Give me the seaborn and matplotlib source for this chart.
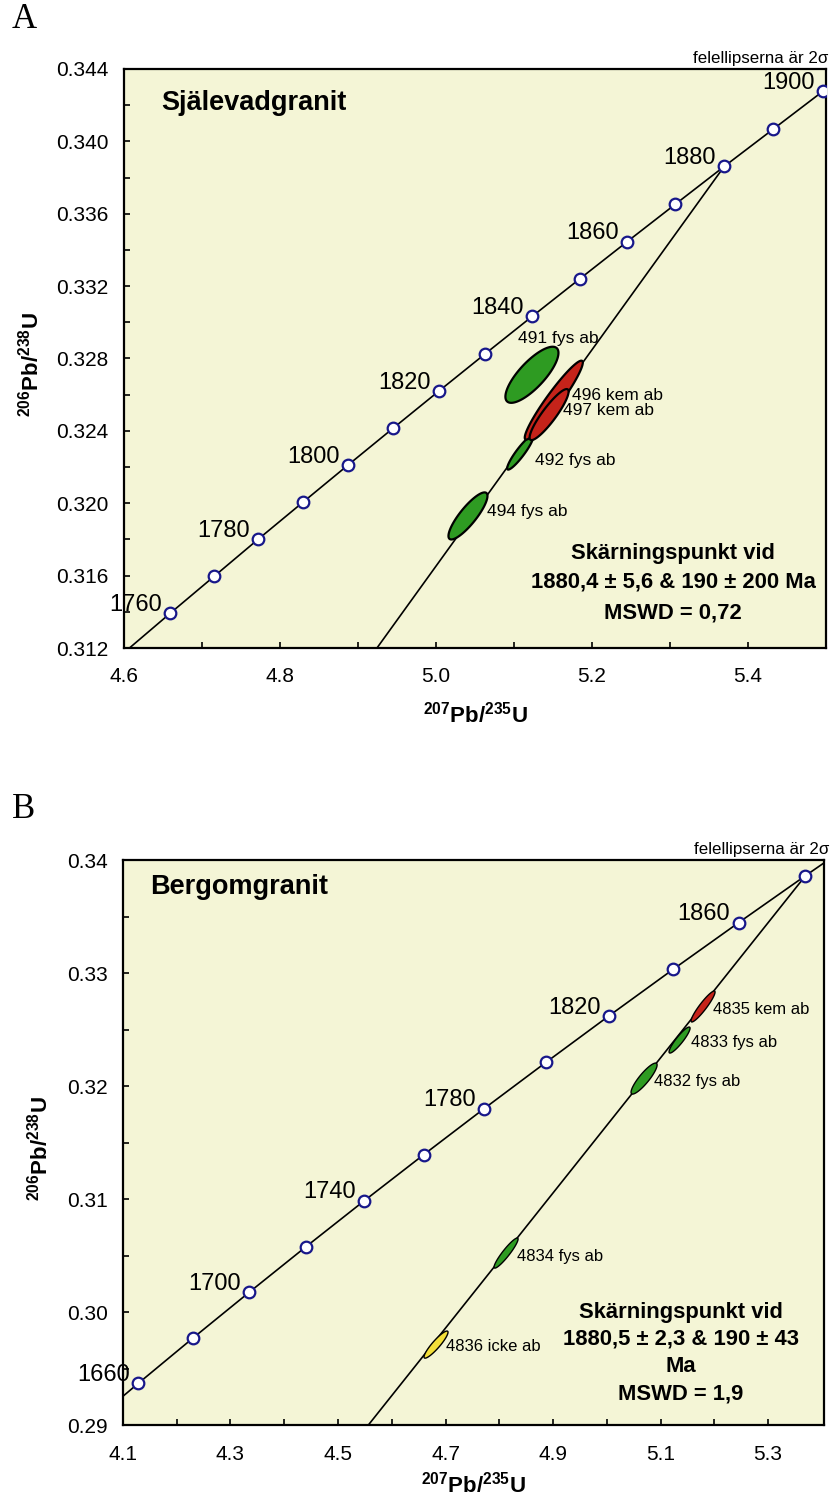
import numpy as np
import seaborn as sns
import matplotlib.pyplot as plt
import pandas as pd

sns.set_style("ticks")
plt.rcParams['font.family'] = ['Liberation Sans', 'DejaVu Sans']
plt.rcParams['mathtext.fontset'] = 'custom'
plt.rcParams['mathtext.rm'] = 'Liberation Sans'
plt.rcParams['mathtext.bf'] = 'Liberation Sans:bold'
plt.rcParams['text.color'] = 'black'
plt.rcParams['axes.labelcolor'] = 'black'
plt.rcParams['xtick.color'] = 'black'
plt.rcParams['ytick.color'] = 'black'

# ---- panel A: Själevadgranit ----
a_ages = [1750, 1760, 1770, 1780, 1790, 1800, 1810, 1820, 1830, 1840, 1850, 1860, 1870, 1880, 1890, 1900, 1910]
a_conc_x = [4.6040, 4.6595, 4.7155, 4.7720, 4.8292, 4.8869, 4.9451, 5.0040, 5.0634, 5.1234,
            5.1840, 5.2452, 5.3070, 5.3694, 5.4325, 5.4961, 5.5604]
a_conc_y = [0.31189, 0.31393, 0.31596, 0.31801, 0.32005, 0.32210, 0.32415, 0.32621, 0.32827, 0.33033,
            0.33239, 0.33446, 0.33653, 0.33861, 0.34068, 0.34277, 0.34485]
a_marked = [1760, 1770, 1780, 1790, 1800, 1810, 1820, 1830, 1840, 1850, 1860, 1870, 1880, 1890, 1900]
a_labeled = [1760, 1780, 1800, 1820, 1840, 1860, 1880, 1900]
# discordia: lower and upper intercept (190 Ma and 1880.4 Ma)
a_disc_x = [0.2058, 5.3694]
a_disc_y = [0.02991, 0.33861]

a_ell_name = ["491 fys ab", "494 fys ab", "492 fys ab", "496 kem ab", "497 kem ab"]
a_ell_x = [5.123, 5.041, 5.108, 5.151, 5.145]
a_ell_y = [0.3271, 0.3193, 0.3228, 0.3257, 0.3249]
a_ell_sx = [0.034, 0.025, 0.0167, 0.0372, 0.025]
a_ell_sy = [0.00155, 0.0013, 0.00094, 0.00218, 0.00141]
a_ell_rho = [0.78, 0.85, 0.92, 0.95, 0.90]
a_ell_type = ["fys", "fys", "fys", "kem", "kem"]
a_lab_x = [5.105, 5.065, 5.127, 5.174, 5.163]
a_lab_y = [0.32913, 0.31957, 0.32234, 0.32598, 0.32510]

a_xticks = [4.6, 4.7, 4.8, 4.9, 5.0, 5.1, 5.2, 5.3, 5.4]
a_xticklabels = ["4.6", "", "4.8", "", "5.0", "", "5.2", "", "5.4"]
a_yticks = [0.312, 0.314, 0.316, 0.318, 0.320, 0.322, 0.324, 0.326, 0.328, 0.330,
            0.332, 0.334, 0.336, 0.338, 0.340, 0.342, 0.344]
a_yticklabels = ["0.312", "", "0.316", "", "0.320", "", "0.324", "", "0.328", "",
                 "0.332", "", "0.336", "", "0.340", "", "0.344"]
a_result = ["Skärningspunkt vid", "1880,4 ± 5,6 & 190 ± 200 Ma", "MSWD = 0,72"]

# ---- panel B: Bergomgranit ----
b_ages = [1640, 1660, 1680, 1700, 1720, 1740, 1760, 1780, 1800, 1820, 1840, 1860, 1880, 1900]
b_conc_x = [4.0287, 4.1287, 4.2307, 4.3348, 4.4409, 4.5491, 4.6595, 4.7720, 4.8869, 5.0040,
            5.1234, 5.2452, 5.3694, 5.4961]
b_conc_y = [0.28969, 0.29370, 0.29772, 0.30175, 0.30580, 0.30986, 0.31393, 0.31801, 0.32210, 0.32621,
            0.33033, 0.33446, 0.33861, 0.34277]
b_marked = [1660, 1680, 1700, 1720, 1740, 1760, 1780, 1800, 1820, 1840, 1860, 1880]
b_labeled = [1660, 1700, 1740, 1780, 1820, 1860]
b_disc_x = [0.2058, 5.3700]
b_disc_y = [0.02991, 0.33864]

b_ell_name = ["4835 kem ab", "4833 fys ab", "4832 fys ab", "4834 fys ab", "4836 icke ab"]
b_ell_x = [5.179, 5.1353, 5.0693, 4.8126, 4.6823]
b_ell_y = [0.32704, 0.32407, 0.32066, 0.30522, 0.29712]
b_ell_sx = [0.0223, 0.0195, 0.0242, 0.0223, 0.0223]
b_ell_sy = [0.00137, 0.00115, 0.00137, 0.00133, 0.0012]
b_ell_rho = [0.93, 0.91, 0.88, 0.93, 0.91]
b_ell_type = ["kem", "fys", "fys", "fys", "icke"]
b_lab_x = [5.1977, 5.1567, 5.0879, 4.833, 4.701]
b_lab_y = [0.32681, 0.32381, 0.32044, 0.30496, 0.29699]

b_xticks = [4.1, 4.2, 4.3, 4.4, 4.5, 4.6, 4.7, 4.8, 4.9, 5.0, 5.1, 5.2, 5.3]
b_xticklabels = ["4.1", "", "4.3", "", "4.5", "", "4.7", "", "4.9", "", "5.1", "", "5.3"]
b_yticks = [0.290, 0.295, 0.300, 0.305, 0.310, 0.315, 0.320, 0.325, 0.330, 0.335, 0.340]
b_yticklabels = ["0.29", "", "0.30", "", "0.31", "", "0.32", "", "0.33", "", "0.34"]
b_result = ["Skärningspunkt vid", "1880,5 ± 2,3 & 190 ± 43", "Ma", "MSWD = 1,9"]

colors = {"fys": "#2E9B22", "kem": "#C5231A", "icke": "#F3DF3A"}
BG = "#F4F5D6"
MARKER_EDGE = "#17178A"


def draw_ellipse(ax, cx, cy, sx, sy, rho, color, lw):
    t = np.linspace(0, 2 * np.pi, 150)
    ex = cx + sx * np.cos(t)
    ey = cy + sy * (rho * np.cos(t) + np.sqrt(1 - rho ** 2) * np.sin(t))
    ax.fill(ex, ey, facecolor=color, edgecolor="black", linewidth=lw, zorder=4)


def panel(ax, ages, cx, cy, marked, labeled, dx, dy, names, ex, ey, esx, esy, erho, etype,
          lx, ly, lab_size, ell_lw, xlim, ylim, xt, xtl, yt, ytl):
    ax.set_facecolor(BG)
    conc = pd.DataFrame({"age": ages, "x": cx, "y": cy})
    sns.lineplot(data=conc, x="x", y="y", sort=False, estimator=None,
                 color="black", linewidth=1.2, ax=ax, zorder=2)
    disc = pd.DataFrame({"x": dx, "y": dy})
    sns.lineplot(data=disc, x="x", y="y", sort=False, estimator=None,
                 color="black", linewidth=1.2, ax=ax, zorder=2)
    for i in range(len(names)):
        draw_ellipse(ax, ex[i], ey[i], esx[i], esy[i], erho[i], colors[etype[i]], ell_lw)
        ax.text(lx[i], ly[i], names[i], ha="left", va="center", fontsize=lab_size, zorder=6)
    pts = conc[conc["age"].isin(marked)]
    sns.scatterplot(data=pts, x="x", y="y", s=70, facecolor="white",
                    edgecolor=MARKER_EDGE, linewidth=1.6, ax=ax, zorder=5)
    for _, r in conc[conc["age"].isin(labeled)].iterrows():
        ax.annotate(str(int(r["age"])), (r["x"], r["y"]), xytext=(-6, 6),
                    textcoords="offset points", ha="right", va="center",
                    fontsize=17, zorder=6, annotation_clip=False)
    ax.set_xlim(*xlim)
    ax.set_ylim(*ylim)
    ax.set_xticks(xt)
    ax.set_xticklabels(xtl)
    ax.set_yticks(yt)
    ax.set_yticklabels(ytl)
    ax.tick_params(direction="in", length=4.5, width=1.2, labelsize=15,
                   top=False, right=False)
    ax.tick_params(axis="x", pad=14)
    ax.tick_params(axis="y", pad=11)
    for sp in ax.spines.values():
        sp.set_visible(True)
        sp.set_linewidth(1.6)
        sp.set_color("black")
    ax.set_xlabel(r"$\mathbf{^{207}Pb/^{235}U}$", fontsize=16)
    ax.set_ylabel(r"$\mathbf{^{206}Pb/^{238}U}$", fontsize=16)


fig = plt.figure(figsize=(8.32, 15.12), dpi=100)
axA = fig.add_axes([0.1490, 0.5714, 0.8438, 0.3830])
axB = fig.add_axes([0.1478, 0.0575, 0.8426, 0.3737])

panel(axA, a_ages, a_conc_x, a_conc_y, a_marked, a_labeled, a_disc_x, a_disc_y,
      a_ell_name, a_ell_x, a_ell_y, a_ell_sx, a_ell_sy, a_ell_rho, a_ell_type,
      a_lab_x, a_lab_y, 12.5, 1.6,
      (4.6, 5.5), (0.312, 0.344), a_xticks, a_xticklabels, a_yticks, a_yticklabels)
panel(axB, b_ages, b_conc_x, b_conc_y, b_marked, b_labeled, b_disc_x, b_disc_y,
      b_ell_name, b_ell_x, b_ell_y, b_ell_sx, b_ell_sy, b_ell_rho, b_ell_type,
      b_lab_x, b_lab_y, 12, 1.0,
      (4.1, 5.404), (0.29, 0.34), b_xticks, b_xticklabels, b_yticks, b_yticklabels)

axA.xaxis.set_label_coords(0.5, -0.092)
axA.yaxis.set_label_coords(-0.114, 0.49)
axB.xaxis.set_label_coords(0.5, -0.083)
axB.yaxis.set_label_coords(-0.101, 0.49)

axA.text(0.053, 0.941, "Själevadgranit", transform=axA.transAxes, fontsize=19.5,
         fontweight="bold", ha="left", va="center")
axB.text(0.0385, 0.952, "Bergomgranit", transform=axB.transAxes, fontsize=19.5,
         fontweight="bold", ha="left", va="center")

for txt, yy in zip(a_result, [0.164, 0.114, 0.0605]):
    axA.text(0.782, yy, txt, transform=axA.transAxes, fontsize=15.8,
             fontweight="bold", ha="center", va="center")
for txt, yy in zip(b_result, [0.200, 0.152, 0.103, 0.055]):
    axB.text(0.796, yy, txt, transform=axB.transAxes, fontsize=15.8,
             fontweight="bold", ha="center", va="center")

axA.text(1.004, 1.018, "felellipserna är 2σ", transform=axA.transAxes, fontsize=12.2,
         ha="right", va="center")
axB.text(1.008, 1.018, "felellipserna är 2σ", transform=axB.transAxes, fontsize=12.2,
         ha="right", va="center")

fig.text(12 / 832, 1 - 20 / 1512, "A", family="Liberation Serif", fontsize=25,
         ha="left", va="center")
fig.text(12 / 832, 1 - 810 / 1512, "B", family="Liberation Serif", fontsize=25,
         ha="left", va="center")

fig.savefig("out.png", dpi=100)
